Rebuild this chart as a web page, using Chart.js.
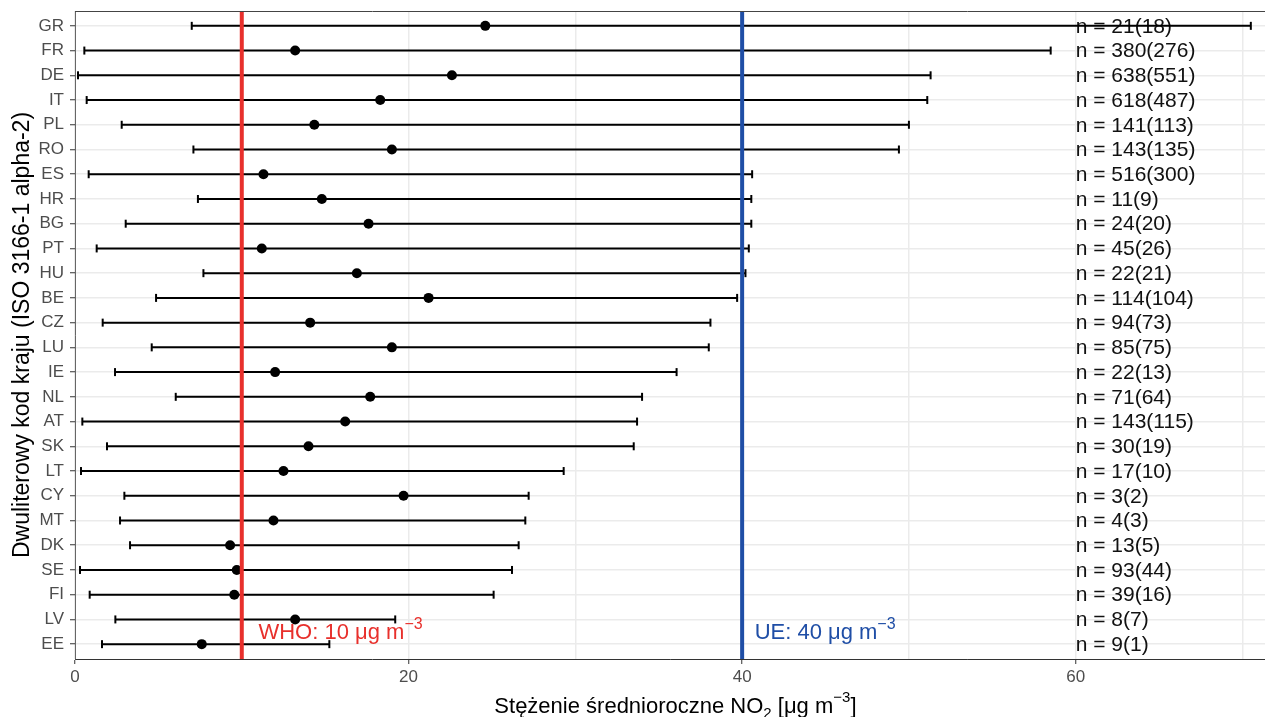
<!DOCTYPE html>
<html lang="pl">
<head>
  <meta charset="UTF-8">
  <title>NO2 - stężenie średnioroczne</title>
  <script src="https://cdn.jsdelivr.net/npm/chart.js"></script>
  <style>
    html, body { margin: 0; padding: 0; background: #fff; }
    canvas { display: block; }
  </style>
</head>
<body>
  <canvas id="chart" width="1265" height="717"></canvas>

  <script>
    // data (order: top to bottom)
    const countries = ["GR", "FR", "DE", "IT", "PL", "RO", "ES", "HR", "BG", "PT", "HU", "BE", "CZ",
                       "LU", "IE", "NL", "AT", "SK", "LT", "CY", "MT", "DK", "SE", "FI", "LV", "EE"];
    const means = [24.6, 13.2, 22.6, 18.3, 14.35, 19.0, 11.3, 14.8, 17.6, 11.2, 16.9, 21.2, 14.1,
                   19.0, 12.0, 17.7, 16.2, 14.0, 12.5, 19.7, 11.9, 9.3, 9.7, 9.55, 13.2, 7.6];
    const mins = [7.0, 0.56, 0.18, 0.7, 2.8, 7.1, 0.82, 7.37, 3.04, 1.3, 7.7, 4.86, 1.66,
                  4.6, 2.4, 6.04, 0.44, 1.92, 0.36, 2.96, 2.7, 3.3, 0.3, 0.88, 2.42, 1.62];
    const maxs = [70.5, 58.5, 51.3, 51.1, 50.0, 49.4, 40.6, 40.55, 40.55, 40.4, 40.2, 39.7, 38.1,
                  38.0, 36.07, 34.0, 33.7, 33.5, 29.3, 27.2, 27.0, 26.6, 26.2, 25.1, 19.2, 15.25];
    const counts = ["n = 21(18)", "n = 380(276)", "n = 638(551)", "n = 618(487)", "n = 141(113)",
                    "n = 143(135)", "n = 516(300)", "n = 11(9)", "n = 24(20)", "n = 45(26)",
                    "n = 22(21)", "n = 114(104)", "n = 94(73)", "n = 85(75)", "n = 22(13)",
                    "n = 71(64)", "n = 143(115)", "n = 30(19)", "n = 17(10)", "n = 3(2)",
                    "n = 4(3)", "n = 13(5)", "n = 93(44)", "n = 39(16)", "n = 8(7)", "n = 9(1)"];
    const xTicks = [0, 10, 20, 30, 40, 50, 60, 70];
    const limitWHO = 10;
    const limitEU = 40;

    const FONT = '"Liberation Sans", Arial, sans-serif';
    const RED = "#e8302c";
    const BLUE = "#1f4ea6";
    const countX = 60;

    // min-max ranges as one broken line
    const rangePts = [];
    countries.forEach((c, i) => {
      rangePts.push({ x: mins[i], y: i }, { x: maxs[i], y: i }, { x: null, y: null });
    });
    const capPts = [];
    countries.forEach((c, i) => {
      capPts.push({ x: mins[i], y: i }, { x: maxs[i], y: i });
    });
    const meanPts = means.map((v, i) => ({ x: v, y: i }));

    // text with a sub/superscript piece
    function drawRich(ctx, parts, x, baseline, align) {
      let total = 0;
      parts.forEach(p => {
        ctx.font = p.size + "px " + FONT;
        p.w = ctx.measureText(p.t).width;
        total += p.w;
      });
      let cx = align === "center" ? x - total / 2 : x;
      ctx.textAlign = "left";
      ctx.textBaseline = "alphabetic";
      parts.forEach(p => {
        ctx.font = p.size + "px " + FONT;
        ctx.fillText(p.t, cx, baseline + (p.dy || 0));
        cx += p.w;
      });
    }

    const overlay = {
      id: "overlay",
      beforeDatasetsDraw(chart) {
        const { ctx, scales: { x, y } } = chart;
        ctx.save();
        ctx.font = "21px " + FONT;
        ctx.fillStyle = "#111";
        ctx.textAlign = "left";
        ctx.textBaseline = "middle";
        counts.forEach((t, i) => ctx.fillText(t, x.getPixelForValue(countX), y.getPixelForValue(i) + 1));
        ctx.restore();
      },
      afterDatasetsDraw(chart) {
        const { ctx, chartArea: a, scales: { x, y } } = chart;
        ctx.save();
        ctx.lineWidth = 4;
        [[limitWHO, RED], [limitEU, BLUE]].forEach(([v, c]) => {
          const px = x.getPixelForValue(v);
          ctx.strokeStyle = c;
          ctx.beginPath();
          ctx.moveTo(px, a.top);
          ctx.lineTo(px, a.bottom);
          ctx.stroke();
        });

        const base = y.getPixelForValue(24.5) + 7;
        ctx.fillStyle = RED;
        drawRich(ctx, [{ t: "WHO: 10 μg m", size: 22 }, { t: "−3", size: 16, dy: -10 }],
                 x.getPixelForValue(11), base, "left");
        ctx.fillStyle = BLUE;
        drawRich(ctx, [{ t: "UE: 40 μg m", size: 22 }, { t: "−3", size: 16, dy: -10 }],
                 x.getPixelForValue(40.75), base, "left");

        // top panel border
        ctx.strokeStyle = "#444";
        ctx.lineWidth = 1;
        ctx.beginPath();
        ctx.moveTo(a.left, a.top + 0.5);
        ctx.lineTo(a.right, a.top + 0.5);
        ctx.stroke();
        ctx.restore();
      },
      afterDraw(chart) {
        const { ctx, scales: { x } } = chart;
        ctx.save();
        ctx.fillStyle = "#000";
        drawRich(ctx, [
          { t: "Stężenie średnioroczne NO", size: 22 },
          { t: "2", size: 15, dy: 5 },
          { t: " [μg m", size: 22 },
          { t: "−3", size: 15, dy: -11 },
          { t: "]", size: 22 }
        ], x.getPixelForValue(36), 713, "center");
        ctx.restore();
      }
    };

    new Chart(document.getElementById("chart"), {
      type: "scatter",
      data: {
        datasets: [
          {
            label: "zakres",
            data: rangePts,
            showLine: true,
            spanGaps: false,
            borderColor: "#000",
            borderWidth: 2,
            pointRadius: 0,
            order: 3
          },
          {
            label: "min/max",
            data: capPts,
            pointStyle: "line",
            rotation: 90,
            pointRadius: 4,
            borderColor: "#000",
            borderWidth: 2,
            order: 2
          },
          {
            label: "średnia",
            data: meanPts,
            pointStyle: "circle",
            pointRadius: 5,
            backgroundColor: "#000",
            borderWidth: 0,
            order: 1
          }
        ]
      },
      options: {
        responsive: false,
        animation: false,
        layout: { autoPadding: false, padding: { top: 11, left: 0, right: 0, bottom: 0 } },
        plugins: {
          legend: { display: false },
          tooltip: { enabled: false }
        },
        scales: {
          x: {
            type: "linear",
            min: 0,
            max: 71.35,
            afterBuildTicks: s => { s.ticks = xTicks.map(v => ({ value: v })); },
            afterFit: s => { s.height = 58; s.paddingLeft = 0; s.paddingRight = 0; },
            ticks: {
              color: "#4d4d4d",
              font: { size: 17, family: FONT },
              padding: 3,
              maxRotation: 0,
              callback: v => (v % 20 === 0 ? v : "")
            },
            grid: {
              color: "#ebebeb",
              lineWidth: 1.5,
              tickLength: 5,
              tickWidth: 1,
              tickColor: c => (c.tick && c.tick.value % 20 === 0 ? "#333" : "rgba(0,0,0,0)")
            },
            border: { color: "#333", width: 1 }
          },
          y: {
            type: "linear",
            reverse: true,
            min: -0.6,
            max: countries.length - 0.4,
            afterBuildTicks: s => { s.ticks = countries.map((c, i) => ({ value: i })); },
            afterFit: s => { s.width = 75; s.paddingTop = 0; s.paddingBottom = 0; },
            ticks: {
              color: "#4d4d4d",
              font: { size: 17, family: FONT },
              padding: 6,
              autoSkip: false,
              callback: v => countries[v]
            },
            grid: {
              color: "#ebebeb",
              lineWidth: 1.5,
              tickLength: 5,
              tickWidth: 1,
              tickColor: "#333"
            },
            border: { color: "#666", width: 1 },
            title: {
              display: true,
              text: "Dwuliterowy kod kraju (ISO 3166-1 alpha-2)",
              color: "#000",
              font: { size: 23, family: FONT },
              padding: { top: 9, bottom: 0 }
            }
          }
        }
      },
      plugins: [overlay]
    });
  </script>
</body>
</html>
